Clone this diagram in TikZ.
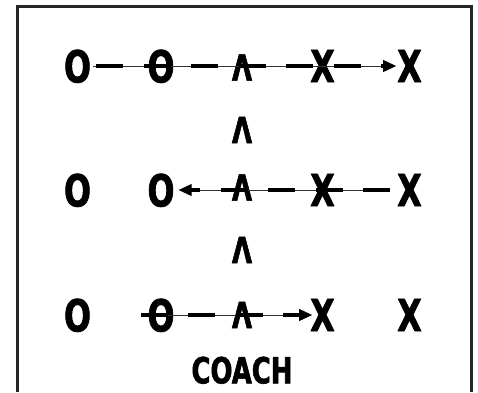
\documentclass[tikz,border=0pt]{standalone}
\usepackage{fontspec}
\newfontfamily\cf{DejaVu Sans Condensed}[FakeStretch=0.8,FakeBold=1.6]
\usetikzlibrary{arrows.meta}
\begin{document}
\begin{tikzpicture}[x=1pt,y=1pt,
  player/.style={font=\cf\bfseries\fontsize{44}{44}\selectfont, inner sep=0pt, text depth=0pt},
  lam/.style={font=\cf\bfseries\fontsize{36}{36}\selectfont, inner sep=0pt, text depth=0pt},
  coachlbl/.style={font=\cf\bfseries\fontsize{36}{36}\selectfont, inner sep=0pt, text depth=0pt},
  thinline/.style={line width=0.9pt, draw=black!80, -{Triangle[length=13pt,width=12pt,color=black]}},
  dashline/.style={line width=4pt, dash pattern=on 27pt off 20.5pt},
  frame/.style={line width=3pt, draw=black!85}]
\useasboundingbox (0,0) rectangle (478,-392);
\draw[frame] (17,-392) -- (17,-6.5) -- (471.5,-6.5) -- (471.5,-392);
% row 1
\node[player] (o11) at (77.5,-66) {O};
\node[player] (o12) at (161,-66) {O};
\node[lam] (l13) at (242,-67.5) {Λ};
\node[player] (x14) at (322.5,-66) {X};
\node[player] (x15) at (409.5,-66) {X};
\node[lam] (m1) at (242,-130) {Λ};
% row 2
\node[player] (o21) at (77.5,-190) {O};
\node[player] (o22) at (161,-190) {O};
\node[lam] (l23) at (242,-187.5) {Λ};
\node[player] (x24) at (322.5,-190) {X};
\node[player] (x25) at (409.5,-190) {X};
\node[lam] (m2) at (242,-250) {Λ};
% row 3
\node[player] (o31) at (77.5,-315) {O};
\node[player] (o32) at (161,-315) {O};
\node[lam] (l33) at (242,-315) {Λ};
\node[player] (x34) at (322.5,-315) {X};
\node[player] (x35) at (409.5,-315) {X};
\node[coachlbl] (coach) at (242,-370) {COACH};
% row 1 connector
\draw[thinline] ([shift={(2pt,0pt)}]o11.east) -- ([shift={(-1pt,0pt)}]x15.west);
\draw[dashline] ([shift={(5pt,0pt)}]o11.east) -- ([shift={(-14pt,0pt)}]x15.west);
% row 2 connector
\draw[thinline] ([shift={(-7pt,0pt)}]x25.west) -- ([shift={(4pt,0pt)}]o22.east);
\draw[dashline] ([shift={(-7pt,0pt)}]x25.west) -- ([shift={(16pt,0pt)}]o22.east);
% row 3 connector
\draw[thinline] ([shift={(-6.5pt,0pt)}]o32.west) -- ([shift={(2pt,0pt)}]x34.west);
\draw[dashline] ([shift={(-6.5pt,0pt)}]o32.west) -- ([shift={(-10pt,0pt)}]x34.west);
\end{tikzpicture}
\end{document}
